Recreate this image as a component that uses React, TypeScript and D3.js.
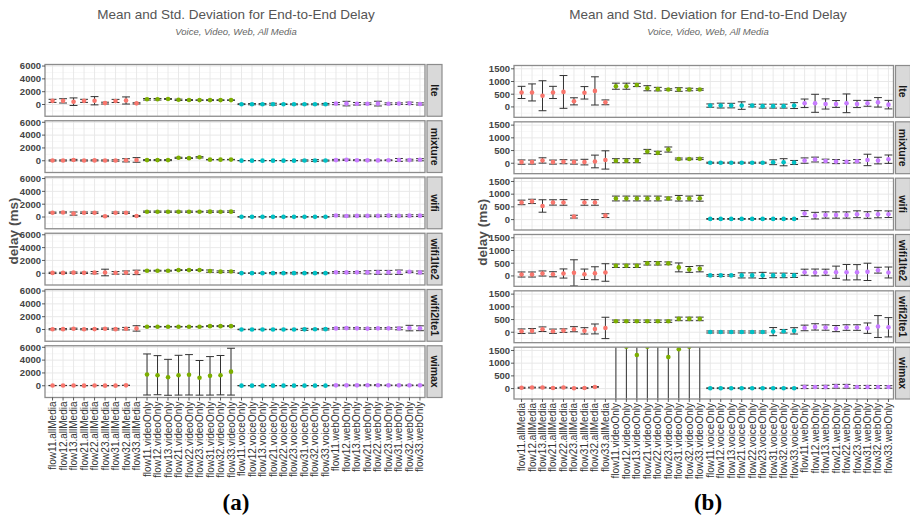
import * as d3 from 'd3';
import React from 'react';

// categories on the x axis: flow x media
const flows = ['flow11', 'flow12', 'flow13', 'flow21', 'flow22', 'flow23', 'flow31', 'flow32', 'flow33'];
const media = ['allMedia', 'videoOnly', 'voiceOnly', 'webOnly'];
const categories = media.flatMap(m => flows.map(f => `${f}.${m}`));
const facets = ['lte', 'mixture', 'wifi', 'wifi1lte2', 'wifi2lte1', 'wimax'];
const mediaColors = ['#F8766D', '#7CAE00', '#00BFC4', '#C77CFF'];

// mean and std. deviation of delay (ms), 36 values per facet
const lteMean = [570, 570, 440, 570, 590, 220, 555, 630, 180, 815, 815, 865, 735, 700, 685, 685, 685, 685, 52, 52, 52, 52, 52, 30, 30, 30, 52, 142, 142, 116, 116, 142, 116, 142, 180, 90];
const lteSd = [240, 335, 590, 240, 645, 140, 245, 555, 95, 120, 120, 65, 100, 70, 30, 70, 50, 30, 65, 95, 90, 148, 52, 77, 77, 77, 116, 168, 355, 200, 135, 368, 142, 116, 187, 168];
const mixtureMean = [45, 45, 110, 45, 60, 45, 45, 70, 130, 100, 100, 100, 460, 410, 540, 170, 170, 180, 20, 20, 20, 20, 20, 20, 40, 40, 30, 105, 145, 90, 65, 55, 80, 130, 105, 160];
const mixtureSd = [85, 80, 105, 80, 80, 80, 110, 250, 360, 80, 80, 80, 85, 60, 100, 35, 30, 35, 20, 20, 20, 20, 20, 20, 95, 140, 80, 105, 95, 70, 80, 55, 65, 225, 130, 165];
const wifiMean = [675, 715, 535, 675, 675, 115, 675, 675, 155, 830, 830, 830, 830, 830, 830, 840, 830, 840, 26, 26, 26, 26, 26, 26, 26, 26, 26, 235, 155, 180, 180, 180, 210, 180, 210, 210];
const wifiSd = [90, 85, 245, 105, 110, 55, 110, 110, 75, 95, 95, 95, 95, 95, 60, 110, 95, 115, 15, 15, 15, 15, 15, 15, 15, 15, 15, 117, 130, 124, 124, 124, 135, 130, 140, 130];
const wifi1lte2Mean = [55, 55, 95, 65, 95, 120, 65, 105, 135, 400, 400, 400, 495, 495, 495, 335, 255, 280, 20, 20, 20, 20, 20, 20, 20, 20, 20, 145, 135, 145, 145, 145, 145, 160, 225, 135];
const wifi1lte2Sd = [100, 100, 100, 100, 180, 515, 205, 255, 345, 67, 67, 67, 67, 67, 55, 175, 115, 120, 30, 40, 30, 100, 100, 120, 90, 90, 80, 120, 135, 120, 240, 305, 300, 340, 115, 215];
const wifi2lte1Mean = [40, 55, 120, 40, 65, 120, 55, 130, 170, 435, 435, 435, 435, 435, 435, 525, 525, 525, 10, 10, 10, 10, 10, 10, 25, 40, 55, 170, 210, 185, 145, 185, 185, 160, 225, 195];
const wifi2lte1Sd = [90, 90, 90, 85, 70, 100, 125, 195, 420, 45, 45, 45, 45, 45, 45, 70, 70, 70, 40, 40, 40, 40, 40, 40, 160, 70, 125, 110, 125, 105, 120, 110, 110, 205, 430, 380];
const wimaxMean = [30, 40, 40, 20, 40, 15, 20, 65, null, 1760, 1650, 1320, 1650, 1710, 1240, 1550, 1650, 2200, 15, 15, 15, 15, 15, 15, 15, 15, 15, 65, 65, 65, 90, 90, 65, 65, 65, 65];
const wimaxSd = [20, 15, 15, 10, 15, 10, 10, 15, null, 3200, 3050, 2800, 3100, 3150, 2700, 3000, 3070, 3650, 15, 15, 15, 15, 15, 15, 15, 15, 15, 65, 50, 65, 75, 75, 50, 60, 55, 50];

const means = [lteMean, mixtureMean, wifiMean, wifi1lte2Mean, wifi2lte1Mean, wimaxMean];
const sds = [lteSd, mixtureSd, wifiSd, wifi1lte2Sd, wifi2lte1Sd, wimaxSd];

const ticksA = [0, 2000, 4000, 6000];
const ticksB = [0, 500, 1000, 1500];

const font = "'Liberation Sans', Arial, sans-serif";

function FacetChart(props) {
    const { left, right, top, bottom, domain, ticks, mid, caption, id } = props;
    const gap = 4.5;
    const ph = (bottom - top - gap * 5) / 6;
    const x = d3.scalePoint().domain(categories).range([left, right]).padding(0.6).align(0.6);
    const step = x.step();
    const half = ticks[1] / 2;
    const minor = ticks.map(t => t - half).concat([ticks[ticks.length - 1] + half])
        .filter(t => t > domain[0] && t < domain[1]);

    return (
        <g>
            <text x={mid} y={18.5} textAnchor="middle" fontSize={13.5} fill="#555">Mean and Std. Deviation for End-to-End Delay</text>
            <text x={mid} y={35} textAnchor="middle" fontSize={9.5} fontStyle="italic" fill="#666">Voice, Video, Web, All Media</text>
            <text transform={`translate(${left - 32},${(top + bottom) / 2}) rotate(-90)`} dy="0.35em" textAnchor="middle"
                fontSize={13.5} fontWeight="bold" fill="#4d4d4d">delay (ms)</text>
            {facets.map((f, fi) => {
                const y0 = top + fi * (ph + gap);
                const y = d3.scaleLinear().domain(domain).range([y0 + ph, y0]);
                const clip = `clip-${id}-${fi}`;
                return (
                    <g key={f}>
                        <clipPath id={clip}><rect x={left} y={y0} width={right - left} height={ph} /></clipPath>
                        <rect x={left} y={y0} width={right - left} height={ph} fill="#fff" />
                        {minor.map(t => <line key={'m' + t} x1={left} x2={right} y1={y(t)} y2={y(t)} stroke="#f3f3f3" strokeWidth={0.6} />)}
                        {ticks.map(t => <line key={'g' + t} x1={left} x2={right} y1={y(t)} y2={y(t)} stroke="#e6e6e6" strokeWidth={0.9} />)}
                        {categories.map(c => <line key={c} x1={x(c)} x2={x(c)} y1={y0} y2={y0 + ph} stroke="#e6e6e6" strokeWidth={0.9} />)}
                        <g clipPath={`url(#${clip})`}>
                            {categories.map((c, i) => {
                                const m = means[fi][i];
                                const s = sds[fi][i];
                                if (m == null) return null;
                                const cx = x(c);
                                const w = step * 0.75;
                                return (
                                    <g key={c} stroke="#333" strokeWidth={1}>
                                        <line x1={cx} x2={cx} y1={y(m - s)} y2={y(m + s)} />
                                        <line x1={cx - w / 2} x2={cx + w / 2} y1={y(m - s)} y2={y(m - s)} />
                                        <line x1={cx - w / 2} x2={cx + w / 2} y1={y(m + s)} y2={y(m + s)} />
                                    </g>
                                );
                            })}
                            {categories.map((c, i) => {
                                const m = means[fi][i];
                                if (m == null) return null;
                                return <circle key={c} cx={x(c)} cy={y(m)} r={2.3} fill={mediaColors[Math.floor(i / flows.length)]} />;
                            })}
                        </g>
                        <rect x={left} y={y0} width={right - left} height={ph} fill="none" stroke="#8c8c8c" strokeWidth={1.3} />
                        <rect x={right + 2} y={y0} width={15} height={ph} fill="#d9d9d9" stroke="#8c8c8c" strokeWidth={1.2} />
                        <text transform={`translate(${right + 9.5},${y0 + ph / 2}) rotate(90)`} dy="0.35em" textAnchor="middle"
                            fontSize={10.5} fontWeight="bold" fill="#1a1a1a">{f}</text>
                        {ticks.map(t => (
                            <g key={'t' + t}>
                                <line x1={left - 3} x2={left} y1={y(t)} y2={y(t)} stroke="#333" strokeWidth={0.8} />
                                <text x={left - 4} y={y(t)} dy="0.35em" textAnchor="end" fontSize={9.5} fontWeight="bold" fill="#444">{t}</text>
                            </g>
                        ))}
                    </g>
                );
            })}
            {categories.map(c => (
                <g key={c}>
                    <line x1={x(c)} x2={x(c)} y1={bottom} y2={bottom + 3} stroke="#333" strokeWidth={0.8} />
                    <text transform={`translate(${x(c)},${bottom + 4}) rotate(-90)`} dy="0.35em" textAnchor="end"
                        fontSize={10} fill="#333">{c}</text>
                </g>
            ))}
            <text x={mid} y={510} textAnchor="middle" fontSize={23} fontWeight="bold"
                fontFamily="'Liberation Serif', 'Times New Roman', serif" fill="#000">{caption}</text>
        </g>
    );
}

export default function App() {
    return (
        <svg width={910} height={520} style={{ position: 'absolute', left: 0, top: 0, background: '#fff' }} fontFamily={font}>
            <FacetChart id="a" left={45} right={425} top={64.5} bottom={397.5} domain={[-1830, 6240]} ticks={ticksA} mid={236} caption="(a)" />
            <FacetChart id="b" left={514} right={893.5} top={65.5} bottom={399} domain={[-410, 1630]} ticks={ticksB} mid={708} caption="(b)" />
        </svg>
    );
}
